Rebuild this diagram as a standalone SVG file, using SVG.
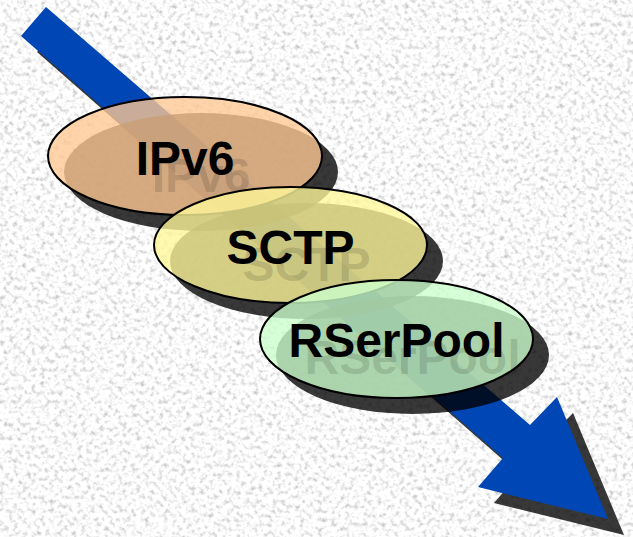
<svg xmlns="http://www.w3.org/2000/svg" width="633" height="537" viewBox="0 0 633 537">
  <defs>
    <!-- speckled granite backdrop -->
    <filter id="granite" x="0" y="0" width="100%" height="100%" filterUnits="userSpaceOnUse">
      <feTurbulence type="fractalNoise" baseFrequency="0.22" numOctaves="2" seed="7" result="noise"/>
      <feColorMatrix in="noise" type="matrix"
        values="1.1 0 0 0 0.41
                1.1 0 0 0 0.41
                1.1 0 0 0 0.41
                0 0 0 0 1"/>
    </filter>
    <style>
      .shadow { fill: #000; fill-opacity: 0.78; }
      .layer { stroke: #000; stroke-width: 2; fill-opacity: 0.79; }
      .label { font-family: "Liberation Sans", Arial, sans-serif; font-weight: bold; font-size: 48px; text-anchor: middle; fill: #000; }
      .label-shadow { font-family: "Liberation Sans", Arial, sans-serif; font-weight: bold; font-size: 48px; text-anchor: middle; fill: #000; fill-opacity: 0.15; }
    </style>
    <polygon id="arrowShape" points="46,7 530,425 557,397 608,519 478,487 503,458 21,36"/>
  </defs>

  <rect x="0" y="0" width="633" height="537" fill="#e9e9e9"/>
  <rect x="0" y="0" width="633" height="537" filter="url(#granite)"/>

  <!-- big diagonal arrow -->
  <g id="connectors">
    <use href="#arrowShape" class="shadow" transform="translate(16,16)"/>
    <use href="#arrowShape" fill="#0046b4"/>
  </g>

  <g id="ipv6">
    <ellipse class="shadow" cx="201" cy="172" rx="137" ry="59"/>
    <ellipse class="layer" cx="185" cy="156" rx="137" ry="59" fill="#ffc893"/>
    <text class="label-shadow" x="201" y="192">IPv6</text>
    <text class="label" x="185" y="175">IPv6</text>
  </g>

  <g id="sctp">
    <ellipse class="shadow" cx="306.5" cy="261" rx="136.5" ry="58"/>
    <ellipse class="layer" cx="290.5" cy="245" rx="136.5" ry="58" fill="#fff799"/>
    <text class="label-shadow" x="306.5" y="281">SCTP</text>
    <text class="label" x="290.5" y="264">SCTP</text>
  </g>

  <g id="rserpool">
    <ellipse class="shadow" cx="412.5" cy="355" rx="136.5" ry="59"/>
    <ellipse class="layer" cx="396.5" cy="339" rx="136.5" ry="59" fill="#ccffcc"/>
    <text class="label-shadow" x="412.5" y="374">RSerPool</text>
    <text class="label" x="396.5" y="357">RSerPool</text>
  </g>
</svg>
